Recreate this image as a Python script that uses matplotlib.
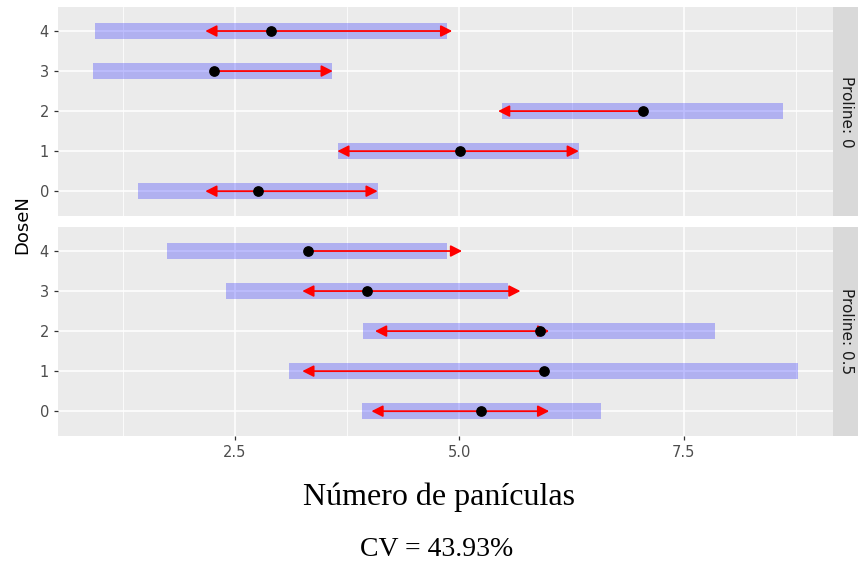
import numpy as np
import matplotlib
matplotlib.use("Agg")
import matplotlib.pyplot as plt

# data
dose = [0, 1, 2, 3, 4]
facets = ["Proline: 0", "Proline: 0.5"]

# Proline 0
ci_lo_0 = [1.42, 3.65, 5.47, 0.92, 0.94]
ci_hi_0 = [4.09, 6.33, 8.60, 3.58, 4.86]
emm_0 = [2.76, 5.01, 7.04, 2.27, 2.90]
arr_lo_0 = [2.17, 3.64, 5.43, None, 2.17]
arr_hi_0 = [4.09, 6.33, None, 3.59, 4.92]

# Proline 0.5
ci_lo_5 = [3.92, 3.10, 3.93, 2.40, 1.74]
ci_hi_5 = [6.58, 8.77, 7.85, 5.54, 4.86]
emm_5 = [5.24, 5.94, 5.90, 3.97, 3.31]
arr_lo_5 = [4.02, 3.25, 4.06, 3.25, None]
arr_hi_5 = [6.00, None, 6.00, 5.68, 5.03]

panels = [
    (ci_lo_0, ci_hi_0, emm_0, arr_lo_0, arr_hi_0),
    (ci_lo_5, ci_hi_5, emm_5, arr_lo_5, arr_hi_5),
]

W, H = 858, 567
fig = plt.figure(figsize=(W / 100, H / 100), dpi=100)

panel_box = [(7, 216), (227, 436)]  # top / bottom in pixels
left_px, right_px = 58, 833

for k, (lo, hi, emm, alo, ahi) in enumerate(panels):
    top, bot = panel_box[k]
    ax = fig.add_axes([left_px / W, 1 - bot / H, (right_px - left_px) / W, (bot - top) / H])
    ax.set_facecolor("#EBEBEB")
    for s in ax.spines.values():
        s.set_visible(False)
    ax.set_xlim(0.53, 9.16)
    ax.set_ylim(-0.62, 4.6)
    ax.set_xticks([2.5, 5.0, 7.5])
    ax.set_xticks([1.25, 3.75, 6.25, 8.75], minor=True)
    ax.set_yticks(dose)
    ax.grid(True, which="major", color="white", lw=1.1)
    ax.grid(True, which="minor", axis="x", color="white", lw=0.55)
    ax.set_axisbelow(True)
    ax.tick_params(axis="both", which="major", length=3, color="#333333",
                   labelcolor="#4D4D4D", labelsize=10.5, width=0.9)
    ax.tick_params(axis="both", which="minor", length=0)
    if k == 0:
        ax.tick_params(axis="x", labelbottom=False, length=0)
    else:
        ax.set_xticklabels(["2.5", "5.0", "7.5"], family="Liberation Sans Narrow")

    ax.barh(dose, np.array(hi) - np.array(lo), left=lo, height=0.4,
            color=(0, 0, 1, 0.25), lw=0, zorder=2)
    for i, d in enumerate(dose):
        for tip in (alo[i], ahi[i]):
            if tip is None:
                continue
            ax.annotate("", xy=(tip, d), xytext=(emm[i], d),
                        arrowprops=dict(arrowstyle="-|>,head_length=0.75,head_width=0.38",
                                        color="red", lw=1.3, shrinkA=0, shrinkB=0,
                                        mutation_scale=9),
                        zorder=3)
    ax.scatter(emm, dose, s=45, color="black", zorder=4)

    # facet strip
    sax = fig.add_axes([right_px / W, 1 - bot / H, (W - right_px) / W, (bot - top) / H])
    sax.set_facecolor("#D9D9D9")
    sax.set_xticks([])
    sax.set_yticks([])
    for s in sax.spines.values():
        s.set_visible(False)
    sax.text(0.55, 0.5, facets[k], rotation=-90, ha="center", va="center",
             transform=sax.transAxes, fontsize=11, color="#1A1A1A")

fig.text(22 / W, 1 - 225 / H, "DoseN", rotation=90, ha="center", va="center",
         fontsize=13, color="black")
fig.text(439 / W, 1 - 497 / H, "Número de panículas", ha="center", va="center",
         fontsize=23, family="Liberation Serif")
fig.text(437 / W, 1 - 550 / H, "CV = 43.93%", ha="center", va="center",
         fontsize=20, family="Liberation Serif")

fig.savefig("out.png", dpi=100)
